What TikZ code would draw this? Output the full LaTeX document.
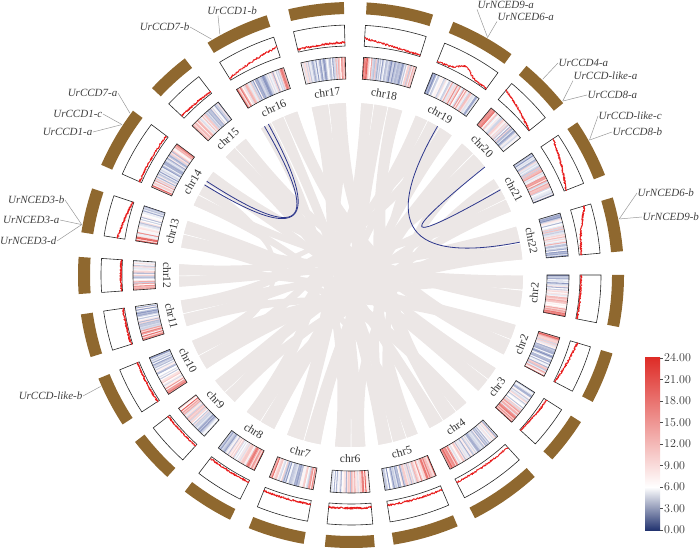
\documentclass[tikz,border=0pt]{standalone}
\usepackage{fontspec}
\setmainfont{Liberation Serif}

\definecolor{brownring}{RGB}{143,104,47}
\definecolor{linered}{RGB}{232,30,30}
\definecolor{hred}{RGB}{222,45,40}
\definecolor{hblue}{RGB}{55,75,148}
\definecolor{cbnavy}{RGB}{35,52,112}
\definecolor{ribbongray}{RGB}{236,231,230}
\definecolor{linkblue}{RGB}{45,55,140}

\tikzset{
  ribbonband/.style={fill=ribbongray},
  bluelink/.style={draw=linkblue, line width=0.8pt},
  trackbox/.style={draw=black!85, line width=0.6pt},
  densline/.style={draw=linered, line width=0.9pt, line join=round},
  chrlab/.style={font=\fontsize{11.5}{13}\selectfont, text=black!80, inner sep=0pt},
  genelab/.style={font=\fontsize{11}{13}\selectfont\itshape, text=black!75, inner sep=0.5pt},
  leader/.style={draw=black!40, line width=0.5pt},
  cblab/.style={font=\fontsize{12}{14}\selectfont, text=black!80, anchor=west, inner sep=0pt}
}

\begin{document}
\begin{tikzpicture}[x=1pt,y=1pt]
\useasboundingbox (0,0) rectangle (700,548);
\pgfmathsetseed{11}

\begin{scope}[shift={(351,273)}]
 % ribbons
 \foreach \ra/\wa/\rb/\wb in {5.2/5.3/208.1/4.9, 11/5.3/180.5/3.4, 21.7/4.2/232.7/5.4,
   26.3/3.8/193.2/4.1, 30.5/3.4/270.2/4.6, 39.2/5.3/217.9/4.8, 45/4.8/254.3/5.5,
   54.2/4.7/188.5/4.3, 59.3/4.1/279.2/4.6, 63.8/4.1/238.5/5, 72.7/4.7/289/3.8,
   77.8/4.4/223.1/4.4, 82.6/4/264.7/5.1, 91.7/5.6/302.5/4.9, 97.7/5.5/248.2/5.7,
   108.2/4.6/317.7/4.8, 113.2/4.2/284.2/4.4, 127.7/4.4/332.5/5.3, 132.5/4.2/297.2/4.9,
   143.2/4.4/349.2/5.5, 152.5/3.6/307.8/4.3, 161.7/4.4/322.9/4.3, 166.5/4.3/355.2/4.6,
   176.4/3.7/338.2/4.9, 148/4.1/202.5/5.2, 117.8/3.8/264.7/5.1,
   97.7/5.5/270.2/4.6, 91.7/5.6/232.7/5.4, 72.7/4.7/302.5/4.9, 82.6/4/248.2/5.7,
   54.2/4.7/254.3/5.5, 63.8/4.1/208.1/4.9, 39.2/5.3/284.2/4.4, 5.2/5.3/188.5/4.3,
   21.7/4.2/176.4/3.7, 152.5/3.6/349.2/5.5, 108.2/4.6/332.5/5.3, 143.2/4.4/317.7/4.8,
   127.7/4.4/297.2/4.9, 113.2/4.2/279.2/4.6, 77.8/4.4/264.7/5.1, 45/4.8/238.5/5,
   11/5.3/223.1/4.4, 202.5/5.2/355.2/4.6, 193.2/4.1/338.2/4.9, 166.5/4.3/307.8/4.3,
   161.7/4.4/289/3.8, 132.5/4.2/322.9/4.3, 59.3/4.1/180.5/3.4, 26.3/3.8/217.9/4.8}{
   \pgfmathsetmacro\ae{\ra+\wa}
   \pgfmathsetmacro\be{\rb+\wb}
   \fill[ribbonband] (\ra:172) .. controls (\ra:57.3) and (\be:57.3) .. (\be:172)
     arc[start angle=\be, end angle=\rb, radius=172pt]
     .. controls (\rb:57.3) and (\ae:57.3) .. (\ae:172)
     arc[start angle=\ae, end angle=\ra, radius=172pt] -- cycle;
 }

 % blue links
 \foreach \p/\q [count=\n] in {120.2/147, 118.7/148.4, 59.8/11, 38.9/29.7}{
   \coordinate (lks\n) at (\p:172);
   \coordinate (lke\n) at (\q:172);
   \draw[bluelink] (lks\n) .. controls (\p:57.3) and (\q:57.3) .. (lke\n);
 }

 % chromosomes: heatmap, density line, brown arc, label
 \foreach \id/\nm/\lo/\hi/\ha/\hb/\hc/\va/\vb/\vc/\vh in {
   c1/chr2/349/360/-0.1/-0.7/0.2/0.05/0/0/0,
   c22/chr22/5/16.5/0.1/0/-0.8/0.25/0.3/0.15/0,
   c21/chr21/21.5/34/0.2/-0.2/-0.9/0.4/0.3/0/0,
   c20/chr20/39/50/-0.1/0.6/0.2/0.3/0.28/0/0,
   c19/chr19/54/68/0.2/-0.2/-0.9/0.07/0/0/0.35,
   c18/chr18/72.5/86.7/-0.6/0.3/1.3/0.15/0.15/0.08/0,
   c17/chr17/91.5/103.3/-0.6/-0.2/1.2/0.15/-0.03/0/0,
   c16/chr16/108/121.7/-0.5/0.1/1.2/0.3/-0.2/0/0,
   c15/chr15/127.5/136.8/-0.1/0.5/0.2/0.12/0.04/0/0,
   c14/chr14/143/156.2/-0.5/0/1.1/0.1/0/0/0,
   c13/chr13/161.5/171/-0.1/0.6/0.2/0.2/0.15/0/0,
   c12/chr12/176.2/184/-0.2/0.3/0.3/0.05/0/0/0,
   c11/chr11/188.3/197.5/-0.1/0.6/0.2/0.07/0/0/0,
   c10/chr10/202.3/213.2/-0.2/0.5/0.1/0.1/0/0/0,
   c9/chr9/217.7/227.7/-0.1/-0.6/0.2/0.1/0/0/0,
   c8/chr8/232.5/243.7/-0.1/0.6/0.2/0.1/0/0/0,
   c7/chr7/248/260/-0.5/-0.1/1.1/0.18/0/0/0,
   c6/chr6/264.5/275/-0.1/0.6/0.2/0.2/0/0/0,
   c5/chr5/279/293/-0.1/0.7/0.2/0.2/0/0/0,
   c4/chr4/297/312.3/-0.3/-0.5/0.6/0.18/0/0/0,
   c3/chr3/317.5/327.4/-0.1/-0.6/0.2/0.1/0.06/0/0,
   c2/chr2/332.3/343.3/-0.5/0.2/1.2/0.2/0.15/0/0}{
   \pgfmathtruncatemacro\ns{(\hi-\lo)/0.3}
   \pgfmathsetmacro\st{(\hi-\lo)/(\ns+1)}
   \foreach \kk in {0,...,\ns}{
     \pgfmathsetmacro\ta{\lo+\kk*\st}
     \pgfmathsetmacro\tb{min(\ta+\st+0.08,\hi)}
     \pgfmathsetmacro\uh{2*(\kk+0.5)/(\ns+1)-1}
     \pgfmathsetmacro\sv{max(-1,min(1,\ha+\hb*\uh+\hc*\uh*\uh+0.55*rand))}
     \ifdim\sv pt>0pt
       \pgfmathsetmacro\pc{75*\sv}\def\hcol{hred!\pc!white}%
     \else
       \pgfmathsetmacro\pc{-62*\sv}\def\hcol{hblue!\pc!white}%
     \fi
     \fill[fill=\hcol] (\ta:196) -- (\ta:218) -- (\tb:218) -- (\tb:196) -- cycle;
   }
   \draw[trackbox] (\lo:196) arc[start angle=\lo, end angle=\hi, radius=196pt]
     -- (\hi:218) arc[start angle=\hi, end angle=\lo, radius=218pt] -- cycle;
   \draw[trackbox] (\lo:229) arc[start angle=\lo, end angle=\hi, radius=229pt]
     -- (\hi:250) arc[start angle=\hi, end angle=\lo, radius=250pt] -- cycle;
   \draw[densline] plot[domain=-1:1, samples=110, variable=\uu]
     ({\lo+(\uu+1)*(\hi-\lo)/2}:{229+21*max(0.03,min(0.97,\va+\vb*\uu+\vc*\uu*\uu+\vh*exp(-10*\uu*\uu)+0.05*rand))});
   \fill[brownring] (\lo:261) arc[start angle=\lo, end angle=\hi, radius=261pt]
     -- (\hi:273) arc[start angle=\hi, end angle=\lo, radius=273pt] -- cycle;
   \pgfmathsetmacro\md{(\lo+\hi)/2}
   \pgfmathsetmacro\rt{\md<180 ? \md-90 : \md+90}
   \node[chrlab, rotate=\rt] (\id) at (\md:184) {\nm};
 }

 \coordinate (t1b) at (118.6:274);
 \coordinate (t7b) at (120.6:274);
 \coordinate (t7a) at (143.8:274);
 \coordinate (t1ac) at (146.7:274);
 \coordinate (tN3) at (169.4:274);
 \coordinate (tLb) at (204:274);
 \coordinate (tN69a) at (60.1:274);
 \coordinate (t4a) at (45.6:274);
 \coordinate (t8a) at (39.4:274);
 \coordinate (t8b) at (29.5:274);
 \coordinate (tN69b) at (11.8:274);
\end{scope}

% gene labels
\node[genelab] (g1b) at (232,537) {UrCCD1-b};
\node[genelab, anchor=east] (g7b) at (190,521) {UrCCD7-b};
\node[genelab, anchor=east] (g7a) at (118,455) {UrCCD7-a};
\node[genelab, anchor=east] (g1c) at (103,434) {UrCCD1-c};
\node[genelab, anchor=east] (g1a) at (93,416) {UrCCD1-a};
\node[genelab, anchor=east] (gN3b) at (65,348) {UrNCED3-b};
\node[genelab, anchor=east] (gN3a) at (60,328) {UrNCED3-a};
\node[genelab, anchor=east] (gN3d) at (57,307) {UrNCED3-d};
\node[genelab, anchor=east] (gLb) at (83,152) {UrCCD-like-b};
\node[genelab, anchor=west] (gN9a) at (477,543) {UrNCED9-a};
\node[genelab, anchor=west] (gN6a) at (497,531) {UrNCED6-a};
\node[genelab, anchor=west] (g4a) at (558,485) {UrCCD4-a};
\node[genelab, anchor=west] (gLa) at (573,472) {UrCCD-like-a};
\node[genelab, anchor=west] (g8a) at (587,453) {UrCCD8-a};
\node[genelab, anchor=west] (gLc) at (598,432) {UrCCD-like-c};
\node[genelab, anchor=west] (g8b) at (612,416) {UrCCD8-b};
\node[genelab, anchor=west] (gN6b) at (637,355) {UrNCED6-b};
\node[genelab, anchor=west] (gN9b) at (642,331) {UrNCED9-b};

\draw[leader] ([xshift=-14pt]g1b.south) -- (t1b);
\draw[leader] (g7b.east) -- (t7b);
\draw[leader] (g7a.east) -- (t7a);
\draw[leader] (g1c.east) -- (t1ac);
\draw[leader] (g1a.east) -- (t1ac);
\draw[leader] (gN3b.east) -- (tN3);
\draw[leader] (gN3a.east) -- (tN3);
\draw[leader] (gN3d.east) -- (tN3);
\draw[leader] (gLb.east) -- (tLb);
\draw[leader] (gN9a.south west) -- (tN69a);
\draw[leader] (gN6a.south west) -- (tN69a);
\draw[leader] (g4a.west) -- (t4a);
\draw[leader] (gLa.south west) -- (t8a);
\draw[leader] (g8a.west) -- (t8a);
\draw[leader] (gLc.west) -- (t8b);
\draw[leader] (g8b.west) -- (t8b);
\draw[leader] (gN6b.west) -- (tN69b);
\draw[leader] (gN9b.west) -- (tN69b);

% colour scale
\shade[bottom color=cbnavy, top color=white] (645,18) rectangle (660,61);
\shade[bottom color=white, top color=hred] (645,61) rectangle (660,190);
\foreach \n in {0,...,8}{
  \draw[black!70, line width=0.5pt] (660,{18+21.5*\n}) -- (663,{18+21.5*\n});
  \pgfmathsetmacro\val{3*\n}
  \node[cblab] (cb\n) at (664,{18+21.5*\n}) {\pgfmathprintnumber[fixed, precision=2, zerofill]{\val}};
}
\end{tikzpicture}
\end{document}
